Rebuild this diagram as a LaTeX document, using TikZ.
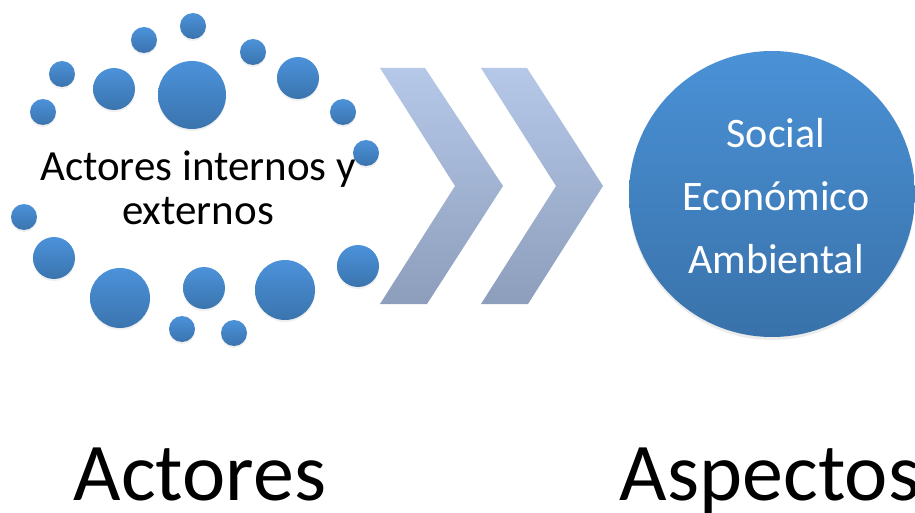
\documentclass[tikz,border=0pt]{standalone}
\usepackage{fontspec}
\setmainfont{Carlito}
\usetikzlibrary{shadows}
\definecolor{dottop}{RGB}{76,146,218}
\definecolor{dotbot}{RGB}{58,116,174}
\definecolor{bigtop}{RGB}{74,145,214}
\definecolor{bigbot}{RGB}{57,114,170}
\definecolor{chevtop}{RGB}{182,200,232}
\definecolor{chevbot}{RGB}{141,158,188}
\tikzset{
  dot/.style={top color=dottop, bottom color=dotbot, draw=none,
    drop shadow={opacity=0.12, shadow xshift=0pt, shadow yshift=-2pt}},
  chev/.style={top color=chevtop, bottom color=chevbot, draw=none},
  bigball/.style={circle, minimum size=286pt, inner sep=0pt, top color=bigtop, bottom color=bigbot, draw=none,
    drop shadow={opacity=0.15, shadow xshift=0pt, shadow yshift=-3pt}},
  lbl/.style={font=\fontsize{43}{44}\selectfont, align=center, text=black},
  biglbl/.style={font=\fontsize{82}{90}\selectfont, anchor=base, inner sep=0pt, text=black},
  inner/.style={font=\fontsize{42}{63}\selectfont, align=center, text=white}
}
\begin{document}
\begin{tikzpicture}[x=1pt,y=-1pt]
\useasboundingbox (0,0) rectangle (915,513);
\fill[white] (0,0) rectangle (915,513);
% dots
\foreach \cx/\cy/\r in {193/26/13, 144/40/13, 253/52/13, 62/74/13, 43/112/13,
  114/89/21, 192/95/34, 298/78/21, 343/112/13, 366/153/13, 24/217/13,
  54/258/21, 120/298/30, 204/288/21, 285/290/30, 358/266/21, 182/329/13, 234/333/13}
  \path[dot] (\cx,\cy) circle[radius=\r pt];
\node[lbl] (inner) at (198,188) {Actores internos y\\externos};
% chevrons
\path[chev] (380,68) -- (425,68) -- (503,186) -- (427,304) -- (380,304) -- (455,186) -- cycle;
\path[chev] (481,68) -- (527,68) -- (603,186) -- (528,304) -- (481,304) -- (556,186) -- cycle;
% big circle
\node[bigball] (aspectos) at (772,194) {};
\node[inner] (aspt) at (776,196) {Social\\Económico\\Ambiental};
% labels
\node[biglbl] (actores) at (200,500) {Actores};
\node[biglbl] (aspectoslbl) at (770,500) {Aspectos};
\end{tikzpicture}
\end{document}
